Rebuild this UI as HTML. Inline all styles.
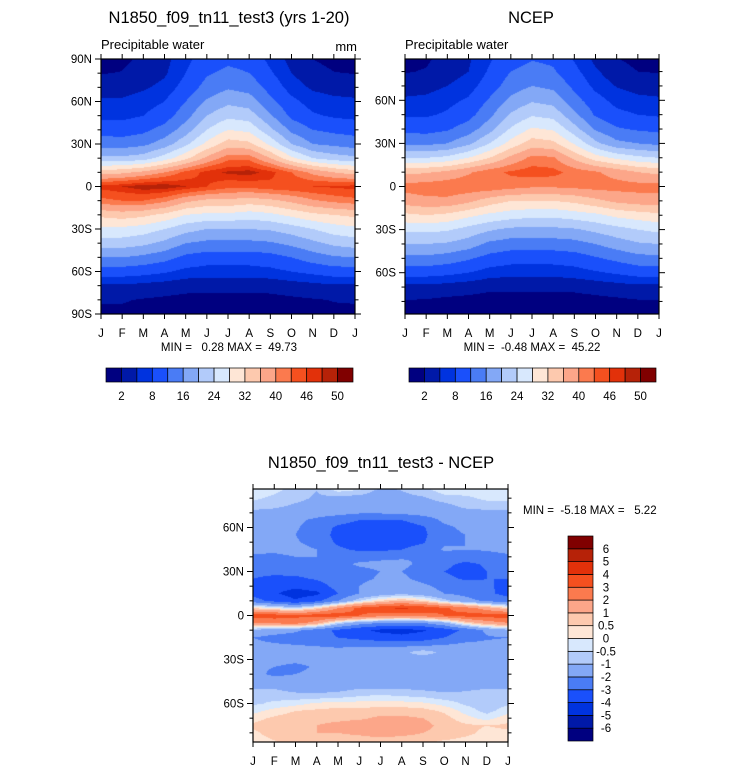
<!DOCTYPE html>
<html><head><meta charset="utf-8">
<style>
html,body{margin:0;padding:0;background:#fff;}
#wrap{position:relative;width:733px;height:773px;overflow:hidden;font-family:"Liberation Sans",sans-serif;}
canvas{position:absolute;}
svg{position:absolute;left:0;top:0;}
svg text{white-space:pre;}
</style></head>
<body>
<div id="wrap">
<canvas id="c1"></canvas>
<canvas id="c2"></canvas>
<canvas id="c3"></canvas>
<svg id="ov" width="733" height="773"></svg>
</div>
<script>
const months=['J','F','M','A','M','J','J','A','S','O','N','D','J'];
const palette=['#000080','#0019a8','#0033df','#1a50fb','#4a7cf5','#83a8f6','#b2cbfa','#d8e8fd','#fee6d6','#fdc9ae','#fca689','#fb7a4e','#f5501f','#e2310a','#b62208','#800000'];
const pwLevels=[2,5,8,12,16,20,24,28,32,36,40,43,46,48,50];
const pwLabels=['2','','8','','16','','24','','32','','40','','46','','50'];
const diffLevels=[-6,-5,-4,-3,-2,-1,-0.5,0,0.5,1,2,3,4,5,6];
const diffLabels=['-6','-5','-4','-3','-2','-1','-0.5','0','0.5','1','2','3','4','5','6'];
const lats10=[90,80,70,60,50,40,30,20,10,0,-10,-20,-30,-40,-50,-60,-70,-80,-90];
const modelVals=[
[1,1.5,2.5,4,7,10,11,10.5,7,4,2,1.2],
[1.9,2.1,3,4.5,8,11.5,13,12,8.5,5,3,2.1],
[3.6,3.6,4.5,6,9.5,13.5,15.5,14.5,10.5,6.5,4.5,3.8],
[5.5,5.5,6.5,8,12,16.5,19,18,13,9,6.5,5.8],
[7,7,8,10,14.5,20,23,22,16.5,11,8.5,7.5],
[10.5,10,11,13.5,18,24,28,27,21,15,12,11],
[14,14,15,18,23,29,34,33,27,20,16,15],
[21,21,22,26,31,37,42,42,36,29,24,22],
[34,35,37,40,44,47,48.5,49,47,43,39,36],
[47,48,49.5,49.5,48,46,44,44,45,45.5,46,46.5],
[42,43,43,41,37,35,35,34,35,37,39.5,41],
[33,34,33,31,28,27,27,26,27,29,31,32],
[27,27,26,24,21.5,20,20,20,20.5,22,24,26],
[22,22,21,19,16,15,15,15,15.5,17,19,21],
[16,16,15,13.5,11,10,10,10,10.5,12,14,15.5],
[10,10,9.5,8.5,7,6.5,6.5,6.5,7,8,9,10],
[4.5,4.5,4,3.5,3,3,3,3,3,3.5,4,4.5],
[2.2,2.2,1.8,1.5,1.2,1,1,1,1.2,1.5,1.8,2.1],
[1.5,1.5,1.3,1,0.8,0.5,0.5,0.5,0.8,1,1.3,1.5]];
const ncepVals=[
[1,1.5,3,4.5,7.5,10,11.5,11,7.5,4,2,1.2],
[1.8,2.2,3.5,5,8.5,12,13.5,12.5,9,5.5,3,2],
[3.5,3.8,5,6.5,10,14,16,15,11,7,4.8,3.8],
[5.5,5.8,7,8.5,12.5,17,19.5,18.5,13.5,9.5,6.8,5.8],
[7.5,7.5,8.5,10.5,15,20.5,23.5,22.5,17,11.5,9,8],
[11,10.5,11.5,14,18.5,24.5,28.5,27.5,21.5,15.5,12.5,11.5],
[15,15,16,19,24,29.5,34,33,27.5,21,17,16],
[24,24,25,28,32,37,41,40.5,35,30,27,25],
[35,35.5,37,39.5,42,43.5,44.5,44,42,40.5,38.5,36],
[41.5,42,42.5,42.5,42.5,41.5,40.5,40.5,41,41.5,41.5,41.5],
[38,39,39,37,34,32,32,32,33,35,37,38],
[31,32,31,29,27,26,25,25,26,27,29,30],
[25,25,24.5,22.5,20.5,19,19,19,19.5,21,22.5,24],
[20,20,19.5,18,15,14,14,14,14.5,16,18,19.5],
[15,15,14,12.5,10.5,9.5,9.5,9.5,10,11.5,13,14.5],
[9.5,9.5,9,8,6.5,6,6,6,6.5,7.5,8.5,9.5],
[4,4,3.5,3,2.5,2.5,2.5,2.5,2.6,3,3.5,4],
[1.8,1.6,1.3,1.2,1,0.9,0.9,0.9,1,1.2,1.4,1.7],
[1.2,1.1,1,0.9,0.7,0.5,0.5,0.5,0.7,0.9,1,1.1]];
const lats5=[90,85,80,75,70,65,60,55,50,45,40,35,30,25,20,15,10,5,0,-5,-10,-15,-20,-25,-30,-35,-40,-45,-50,-55,-60,-65,-70,-75,-80,-85,-90];
const diffVals=[
[-0.3,-0.3,-0.5,-0.8,0.2,0.3,-0.8,-0.8,-0.5,0.2,0.3,-0.3],
[-0.3,-0.4,-0.7,-1.0,-0.4,-0.6,-1.2,-1.0,-0.7,-0.3,-0.3,-0.3],
[-0.4,-0.6,-0.8,-1.1,-1.2,-1.3,-1.3,-1.2,-1.1,-0.7,-0.6,-0.4],
[-0.7,-0.8,-1.1,-1.3,-1.5,-1.6,-1.6,-1.5,-1.4,-1.2,-0.8,-0.7],
[-1.2,-1.3,-1.5,-1.6,-1.7,-1.9,-1.9,-1.8,-1.6,-1.4,-1.3,-1.2],
[-1.5,-1.6,-1.8,-2.2,-2.6,-3.0,-3.1,-3.0,-2.6,-1.8,-1.6,-1.5],
[-1.7,-1.8,-1.9,-2.4,-3.2,-3.5,-3.6,-3.5,-3.1,-2.2,-1.8,-1.7],
[-1.8,-1.9,-2.0,-2.5,-3.3,-3.6,-3.6,-3.5,-3.2,-2.3,-2.0,-1.9],
[-1.8,-1.9,-1.9,-2.3,-3.2,-3.5,-3.5,-3.4,-3.1,-2.1,-2.0,-1.9],
[-1.7,-1.8,-1.7,-2.0,-2.8,-3.2,-3.2,-3.0,-2.6,-1.9,-2.0,-1.9],
[-2.2,-2.2,-2.0,-2.0,-2.1,-2.3,-2.2,-2.1,-2.0,-2.3,-2.6,-2.4],
[-2.6,-2.5,-2.4,-2.3,-2.2,-1.9,-1.8,-1.8,-2.2,-2.8,-3.2,-2.9],
[-2.8,-2.8,-2.7,-2.5,-2.4,-2.2,-2.0,-2.0,-2.4,-3.0,-3.3,-3.0],
[-3.0,-3.2,-3.2,-2.9,-2.5,-2.2,-1.9,-1.8,-2.3,-2.8,-3.1,-3.0],
[-3.2,-3.6,-3.8,-3.5,-2.6,-2.0,-1.6,-1.4,-1.8,-2.3,-2.6,-2.9],
[-3.3,-3.9,-4.4,-4.2,-3.0,-2.0,-1.5,-1.2,-1.5,-2.0,-2.3,-2.8],
[-2.6,-3.3,-3.9,-3.3,-2.0,-0.5,0.5,1.0,0.5,-0.7,-1.6,-2.2],
[0.5,0.0,-0.5,0.5,2.0,3.3,3.8,4.2,3.8,3.2,2.5,1.5],
[3.5,3.5,3.2,3.5,3.6,3.0,2.5,2.2,2.5,3.0,3.4,3.5],
[2.0,2.3,2.5,1.5,-0.5,-1.5,-2.0,-2.2,-2.0,-1.2,0.5,1.5],
[-1.2,-1.5,-1.8,-2.5,-3.2,-3.8,-4.2,-4.3,-4.1,-3.5,-2.8,-1.8],
[-2.0,-2.3,-2.5,-2.7,-3.0,-3.3,-3.6,-3.8,-3.6,-3.0,-2.4,-2.1],
[-1.8,-1.9,-2.0,-2.1,-2.2,-2.2,-2.3,-2.3,-2.2,-2.0,-1.8,-1.8],
[-1.5,-1.5,-1.5,-1.6,-1.7,-1.5,-1.3,-1.2,-0.6,-1.2,-1.3,-1.4],
[-1.6,-1.7,-1.8,-1.7,-1.6,-1.5,-1.4,-1.4,-1.5,-1.6,-1.9,-1.8],
[-1.8,-2.0,-2.2,-1.9,-1.7,-1.6,-1.6,-1.6,-1.7,-1.8,-2.0,-2.0],
[-1.7,-2.2,-2.0,-1.8,-1.6,-1.5,-1.5,-1.5,-1.6,-1.7,-1.8,-1.8],
[-1.4,-1.5,-1.5,-1.5,-1.4,-1.2,-1.2,-1.2,-1.4,-1.5,-1.5,-1.4],
[-1.0,-1.0,-1.2,-1.3,-1.2,-1.0,-1.0,-1.0,-1.1,-1.2,-1.1,-1.0],
[-0.6,-0.7,-0.8,-0.8,-0.7,-0.5,-0.4,-0.5,-0.6,-0.8,-0.8,-0.6],
[-0.6,-0.4,-0.2,0.1,0.2,0.2,0.2,0.2,0.1,-0.2,-0.6,-0.8],
[-0.2,0.2,0.5,0.6,0.7,0.7,0.8,0.8,0.7,0.4,-0.2,-0.7],
[0.3,0.6,0.8,0.9,0.9,0.9,1.1,1.1,1.0,0.7,0.2,-0.2],
[0.6,0.8,0.9,1.0,1.1,1.3,1.6,1.5,1.2,0.8,0.6,0.5],
[0.4,0.7,1.0,1.0,1.0,1.2,1.5,1.3,1.0,0.8,0.6,0.4],
[0.3,0.5,0.8,0.7,0.6,0.6,0.7,0.6,0.6,0.5,0.4,0.3],
[0.2,0.3,0.4,0.4,0.4,0.4,0.4,0.4,0.4,0.3,0.3,0.2]];

const NS='http://www.w3.org/2000/svg';
const ov=document.getElementById('ov');
function el(tag,attrs,parent){const e=document.createElementNS(NS,tag);for(const k in attrs)e.setAttribute(k,attrs[k]);(parent||ov).appendChild(e);return e;}
function txt(x,y,s,size,anchor,name){const t=el('text',{x:x,y:y,'font-size':size,'text-anchor':anchor||'start','font-family':'Liberation Sans, sans-serif',fill:'#000'});
t.setAttributeNS('http://www.w3.org/XML/1998/namespace','xml:space','preserve');
t.textContent=s;


return t;}
function hexRgb(h){return [parseInt(h.substr(1,2),16),parseInt(h.substr(3,2),16),parseInt(h.substr(5,2),16)];}
const rgbPal=palette.map(hexRgb);
function levelIdx(v,levels){let k=0;while(k<levels.length&&v>=levels[k])k++;return k;}
function sample(lats,vals,lat,m){
  let i=0;while(i<lats.length-2&&lat<lats[i+1])i++;
  const t=(lats[i]-lat)/(lats[i]-lats[i+1]);
  const j=Math.min(11,Math.floor(m));const u=m-j;const j2=(j+1)%12;
  const a=vals[i][j]*(1-u)+vals[i][j2]*u;
  const b=vals[i+1][j]*(1-u)+vals[i+1][j2]*u;
  return a*(1-t)+b*t;
}
function drawMap(id,x0,y0,w,h,latTop,latBot,lats,vals,levels){
  const c=document.getElementById(id);c.width=w;c.height=h;c.style.left=x0+'px';c.style.top=y0+'px';
  const ctx=c.getContext('2d');const img=ctx.createImageData(w,h);
  for(let py=0;py<h;py++){const lat=latTop-(py+0.5)/h*(latTop-latBot);
    for(let px=0;px<w;px++){const m=(px+0.5)/w*12;
      const v=sample(lats,vals,lat,m);const col=rgbPal[levelIdx(v,levels)];
      const o=(py*w+px)*4;img.data[o]=col[0];img.data[o+1]=col[1];img.data[o+2]=col[2];img.data[o+3]=255;}}
  ctx.putImageData(img,0,0);
}
function axes(x0,y0,w,h,latTop,latBot,labelLats,prefix){
  const ys=lat=>y0+(latTop-lat)/(latTop-latBot)*h;
  const xs=i=>x0+i*w/12;
  el('rect',{x:x0,y:y0,width:w,height:h,fill:'none',stroke:'#000','stroke-width':1.2,});
  for(let i=0;i<=12;i++){
    el('line',{x1:xs(i),x2:xs(i),y1:y0,y2:y0-5,stroke:'#000','stroke-width':1});
    el('line',{x1:xs(i),x2:xs(i),y1:y0+h,y2:y0+h+5,stroke:'#000','stroke-width':1});
    txt(xs(i),y0+h+23,months[i],11.5,'middle',prefix+'-x-tick-label');
  }
  for(let lat=-90;lat<=90;lat+=10){
    if(lat>latTop+0.01||lat<latBot-0.01)continue;
    const major=lat%30===0;const len=major?6:3.5;
    el('line',{x1:x0,x2:x0-len,y1:ys(lat),y2:ys(lat),stroke:'#000','stroke-width':1});
    el('line',{x1:x0+w,x2:x0+w+len,y1:ys(lat),y2:ys(lat),stroke:'#000','stroke-width':1});
  }
  labelLats.forEach(lat=>{const s=lat===0?'0':(Math.abs(lat)+(lat>0?'N':'S'));txt(x0-9,ys(lat)+4,s,11.5,'end',prefix+'-y-tick-label');});
}
function hbar(x0,y0,w,h,prefix){
  const n=palette.length;const bw=w/n;
  palette.forEach((c,k)=>el('rect',{x:x0+k*bw,y:y0,width:bw,height:h,fill:c,stroke:'#000','stroke-width':0.7,}));
  pwLabels.forEach((s,k)=>{if(s)txt(x0+(k+1)*bw,y0+h+18,s,11.5,'middle',prefix+'-colorbar-label');});
}
const P1={x:101,y:59,w:254,h:255,top:90,bot:-90};
const P2={x:405,y:59,w:254,h:255,top:88.75,bot:-88.75};
const P3={x:253,y:489,w:255,h:253,top:86.25,bot:-86.25};
drawMap('c1',P1.x,P1.y,P1.w,P1.h,P1.top,P1.bot,lats10,modelVals,pwLevels);
drawMap('c2',P2.x,P2.y,P2.w,P2.h,P2.top,P2.bot,lats10,ncepVals,pwLevels);
drawMap('c3',P3.x,P3.y,P3.w,P3.h,P3.top,P3.bot,lats5,diffVals,diffLevels);
axes(P1.x,P1.y,P1.w,P1.h,P1.top,P1.bot,[90,60,30,0,-30,-60,-90],'model');
axes(P2.x,P2.y,P2.w,P2.h,P2.top,P2.bot,[60,30,0,-30,-60],'ncep');
axes(P3.x,P3.y,P3.w,P3.h,P3.top,P3.bot,[60,30,0,-30,-60],'diff');
txt(229,23,'N1850_f09_tn11_test3 (yrs 1-20)',16.5,'middle','model-title');
txt(531,23,'NCEP',16.5,'middle','ncep-title');
txt(101,49,'Precipitable water',13,'start','model-variable-label');
txt(357,51,'mm',13,'end','model-units-label');
txt(405,49,'Precipitable water',13,'start','ncep-variable-label');
txt(229,351,'MIN =   0.28 MAX =  49.73',11.5,'middle','model-min-max');
txt(532,351,'MIN =  -0.48 MAX =  45.22',11.5,'middle','ncep-min-max');
hbar(106,368,247,14,'model');
hbar(409,368,247,14,'ncep');
txt(381,468,'N1850_f09_tn11_test3 - NCEP',16.5,'middle','diff-title');
txt(523,514,'MIN =  -5.18 MAX =   5.22',11.5,'start','diff-min-max');
(function(){const x0=568,y0=536,w=25,h=205;const n=palette.length;const bh=h/n;
  for(let k=0;k<n;k++){const r=el('rect',{x:x0,y:y0+(n-1-k)*bh,width:w,height:bh,fill:palette[k],stroke:'#000','stroke-width':0.7});
    
    }
  diffLabels.forEach((s,k)=>{txt(606,y0+(n-1-k)*bh+4,s,11.5,'middle','diff-colorbar-label');});
})();
</script>
</body></html>
